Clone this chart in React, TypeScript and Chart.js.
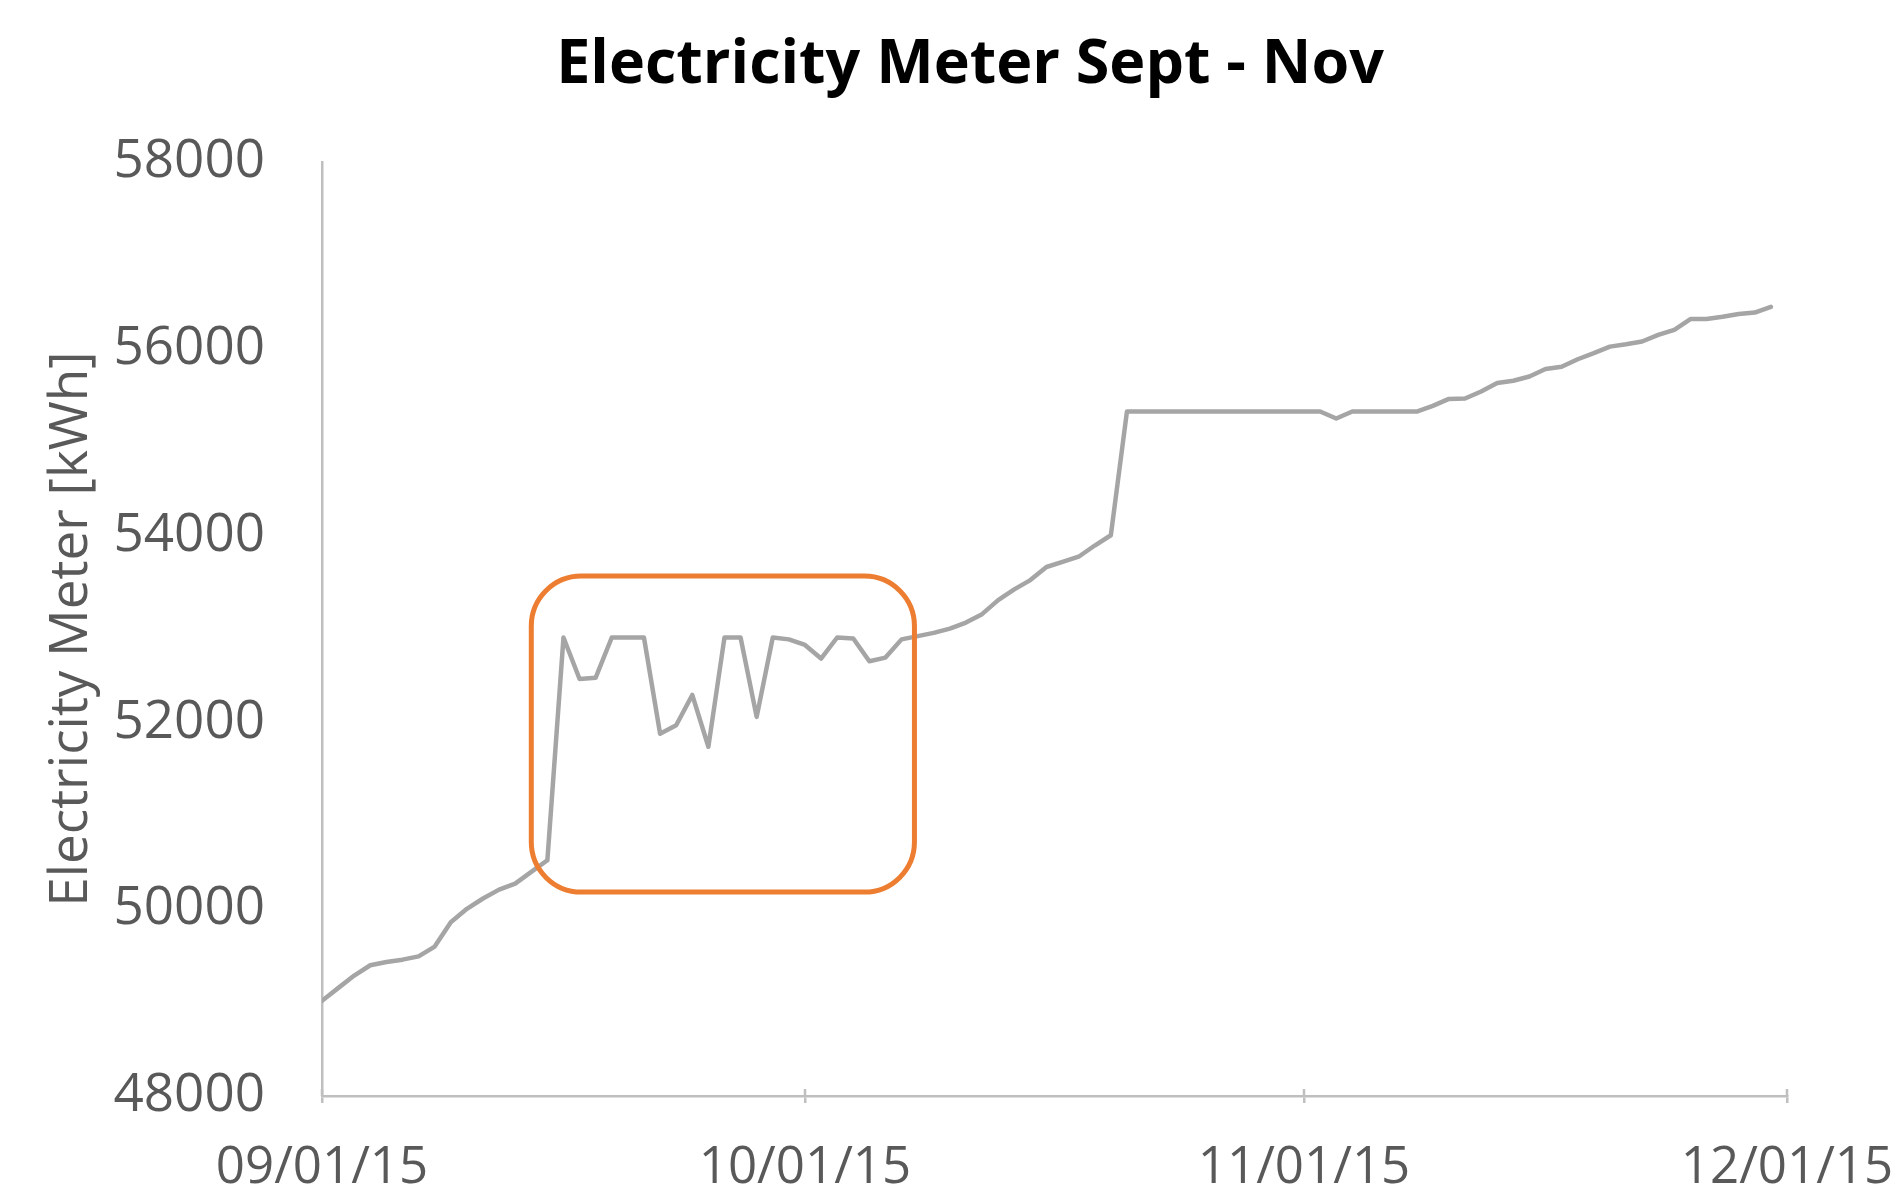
import React, { useEffect, useRef } from "react";
import { Chart, registerables } from "chart.js";

Chart.register(...registerables);

// ---- Data ----
const chartTitle = "Electricity Meter Sept - Nov";
const yAxisTitle = "Electricity Meter [kWh]";
const startDateLabel = "09/01/15";

// Daily meter readings, 09/01/15 .. 11/30/15 (one per day)
const meterReadings = [
  49020, 49155, 49290, 49400, 49435, 49460, 49495, 49600, 49860, 50005,
  50115, 50210, 50275, 50400, 50525, 52910, 52465, 52480, 52910, 52910,
  52910, 51880, 51970, 52295, 51740, 52910, 52910, 52060, 52910, 52890,
  52830, 52685, 52910, 52900, 52655, 52695, 52890, 52925, 52960, 53005,
  53070, 53160, 53310, 53425, 53525, 53665, 53720, 53775, 53895, 54005,
  55330, 55330, 55330, 55330, 55330, 55330, 55330, 55330, 55330, 55330,
  55330, 55330, 55330, 55255, 55330, 55330, 55330, 55330, 55330, 55390,
  55465, 55470, 55545, 55635, 55660, 55705, 55785, 55810, 55890, 55955,
  56025, 56050, 56080, 56150, 56205, 56320, 56320, 56345, 56375, 56390,
  56450,
];

// x-axis ticks: days since 09/01/15
const xTickDays = [0, 30, 61, 91];
const xTickLabels = [startDateLabel, "10/01/15", "11/01/15", "12/01/15"];

const yMin = 48000;
const yMax = 58000;
const yStep = 2000;

// highlighted region (data coordinates)
const highlightDays = [13.0, 36.8];
const highlightValues = [50184, 53568];

// ---- Styles ----
const FONT = "'Open Sans', 'DejaVu Sans', sans-serif";
const AXIS_COLOR = "#BFBFBF";
const TEXT_COLOR = "#595959";
const LINE_COLOR = "#A5A5A5";
const HIGHLIGHT_COLOR = "#ED7D31";

const overlayPlugin = {
  id: "overlayPlugin",
  beforeDatasetsDraw(chart: any) {
    const { ctx, chartArea } = chart;
    const xs = chart.scales.x;
    ctx.save();
    ctx.strokeStyle = AXIS_COLOR;
    ctx.lineWidth = 2.5;
    xTickDays.forEach((d) => {
      const px = Math.round(xs.getPixelForValue(d));
      ctx.beginPath();
      ctx.moveTo(px, chartArea.bottom);
      ctx.lineTo(px, chartArea.bottom - 7);
      ctx.stroke();
    });
    ctx.restore();
  },
  afterDatasetsDraw(chart: any) {
    const { ctx } = chart;
    const xs = chart.scales.x;
    const ys = chart.scales.y;
    const left = xs.getPixelForValue(highlightDays[0]);
    const right = xs.getPixelForValue(highlightDays[1]);
    const top = ys.getPixelForValue(highlightValues[1]);
    const bottom = ys.getPixelForValue(highlightValues[0]);
    ctx.save();
    ctx.strokeStyle = HIGHLIGHT_COLOR;
    ctx.lineWidth = 5;
    ctx.beginPath();
    ctx.roundRect(left, top, right - left, bottom - top, 50);
    ctx.stroke();
    ctx.restore();
  },
};

export default function App() {
  const canvasRef = useRef<HTMLCanvasElement | null>(null);

  useEffect(() => {
    if (!canvasRef.current) return;
    const points = meterReadings.map((v, i) => ({ x: i, y: v }));
    const chart = new Chart(canvasRef.current, {
      type: "line",
      data: {
        datasets: [
          {
            data: points,
            borderColor: LINE_COLOR,
            borderWidth: 4.5,
            pointRadius: 0,
            tension: 0,
            fill: false,
            borderJoinStyle: "round",
            borderCapStyle: "round",
          },
        ],
      },
      options: {
        responsive: false,
        animation: false,
        layout: { padding: { left: 37, right: 0, top: 0, bottom: 0 } },
        plugins: {
          legend: { display: false },
          tooltip: { enabled: false },
          title: {
            display: true,
            text: chartTitle,
            color: "#000000",
            font: { family: FONT, size: 61, weight: "bold" },
            padding: { top: 21, bottom: 60 },
          },
        },
        scales: {
          x: {
            type: "linear",
            min: xTickDays[0],
            max: xTickDays[xTickDays.length - 1],
            afterBuildTicks: (scale: any) => {
              scale.ticks = xTickDays.map((v) => ({ value: v }));
            },
            afterFit: (scale: any) => {
              scale.height = 100;
              scale.paddingRight = 108;
            },
            grid: {
              display: true,
              drawOnChartArea: false,
              drawTicks: true,
              tickLength: 7,
              color: AXIS_COLOR,
              lineWidth: 2.5,
            },
            border: { display: true, color: AXIS_COLOR, width: 2.5 },
            ticks: {
              autoSkip: false,
              maxRotation: 0,
              minRotation: 0,
              padding: 35,
              color: TEXT_COLOR,
              font: { family: FONT, size: 51 },
              callback: (value: any) => {
                const idx = xTickDays.indexOf(Number(value));
                return idx >= 0 ? xTickLabels[idx] : "";
              },
            },
          },
          y: {
            min: yMin,
            max: yMax,
            afterFit: (scale: any) => {
              scale.width = 277;
            },
            grid: { display: false, drawTicks: false },
            border: { display: true, color: AXIS_COLOR, width: 2.5 },
            ticks: {
              stepSize: yStep,
              padding: 57,
              color: TEXT_COLOR,
              font: { family: FONT, size: 53 },
              callback: (value: any) => String(value),
            },
            title: {
              display: true,
              text: yAxisTitle,
              color: TEXT_COLOR,
              font: { family: FONT, size: 53, lineHeight: 1.0 },
              padding: { top: 0, bottom: 0 },
            },
          },
        },
      },
      plugins: [overlayPlugin],
    } as any);
    return () => chart.destroy();
  }, []);

  return (
    <div style={{ width: 1887, height: 1188 }}>
      <canvas
        ref={canvasRef}
        width={1887}
        height={1188}
        style={{ display: "block", width: 1887, height: 1188 }}
      />
    </div>
  );
}
